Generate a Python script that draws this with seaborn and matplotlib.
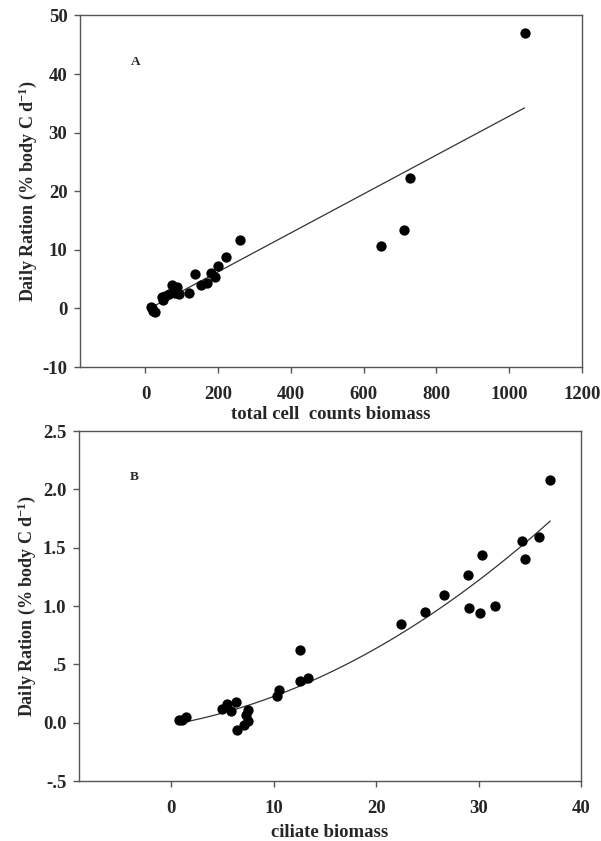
import numpy as np
import pandas as pd
import matplotlib
matplotlib.use("Agg")
import matplotlib.pyplot as plt
import seaborn as sns

# panel A: daily ration vs total cell counts biomass
cells_x = [15, 18, 22, 26, 45, 49, 54, 66, 72, 81, 86, 92, 121, 135, 152, 169,
           181, 192, 199, 221, 259, 648, 712, 727, 1042]
cells_y = [0.3, 0.0, -0.4, -0.6, 2.0, 1.4, 2.2, 2.4, 4.0, 2.6, 3.7, 2.4, 2.7, 5.8,
           4.0, 4.4, 6.0, 5.4, 7.3, 8.8, 11.7, 10.6, 13.4, 22.2, 47.0]

# panel B: daily ration vs ciliate biomass
cil_x = [0.8, 1.1, 1.4, 5.0, 5.4, 5.8, 6.3, 6.4, 7.1, 7.35, 7.47, 7.47, 10.35, 10.5,
         12.55, 12.55, 13.4, 22.4, 24.8, 26.6, 29.0, 29.1, 30.1, 30.3, 31.6, 34.2,
         34.5, 35.9, 37.0]
cil_y = [0.02, 0.02, 0.045, 0.114, 0.163, 0.10, 0.177, -0.06, -0.017, 0.069, 0.11,
         0.011, 0.226, 0.277, 0.627, 0.355, 0.38, 0.842, 0.945, 1.091, 1.263, 0.979,
         0.942, 1.437, 1.00, 1.558, 1.40, 1.589, 2.076]

a_xticks = [0, 200, 400, 600, 800, 1000, 1200]
a_yticks = [-10, 0, 10, 20, 30, 40, 50]
a_ylabels = ["-10", "0", "10", "20", "30", "40", "50"]
b_xticks = [0, 10, 20, 30, 40]
b_yticks = [-0.5, 0.0, 0.5, 1.0, 1.5, 2.0, 2.5]
b_ylabels = ["-.5", "0.0", ".5", "1.0", "1.5", "2.0", "2.5"]

df_a = pd.DataFrame({"x": cells_x, "y": cells_y})
df_b = pd.DataFrame({"x": cil_x, "y": cil_y})

sns.set_style("ticks")
plt.rcParams["font.family"] = ["Liberation Serif", "DejaVu Serif"]
plt.rcParams["font.weight"] = "bold"
plt.rcParams["mathtext.fontset"] = "custom"
plt.rcParams["mathtext.rm"] = "Liberation Serif:bold"
plt.rcParams["mathtext.it"] = "Liberation Serif:bold"
plt.rcParams["mathtext.bf"] = "Liberation Serif:bold"

fig = plt.figure(figsize=(6.01, 8.41), dpi=100)
ax1 = fig.add_axes([0.1331, 0.5636, 0.8353, 0.4180])
ax2 = fig.add_axes([0.1314, 0.0713, 0.8353, 0.4162])

ylab = r"Daily Ration (% body C d$^{-1}$)"
scat = {"s": 55, "color": "black", "linewidths": 0, "alpha": 1, "zorder": 3}
line = {"color": "#333333", "lw": 0.9, "zorder": 2}

# linear fit for A, second order fit for B
sns.regplot(data=df_a, x="x", y="y", ax=ax1, ci=None, scatter_kws=scat, line_kws=line)
sns.regplot(data=df_b, x="x", y="y", ax=ax2, ci=None, order=2, scatter_kws=scat, line_kws=line)

fs = 13.5
setup = [
    (ax1, (-180, 1200), (-10, 50), a_xticks, a_yticks, a_ylabels,
     "total cell  counts biomass", "A", -0.134),
    (ax2, (-9, 40), (-0.5, 2.5), b_xticks, b_yticks, b_ylabels,
     "ciliate biomass", "B", -0.148),
]
for ax, xl, yl, xt, yt, ytl, xlab, tag, xlab_y in setup:
    ax.set_xlim(*xl)
    ax.set_ylim(*yl)
    ax.set_xticks(xt)
    ax.set_xticklabels([str(v) for v in xt])
    ax.set_yticks(yt)
    ax.set_yticklabels(ytl)
    for sp in ax.spines.values():
        sp.set_visible(True)
        sp.set_color("#555555")
        sp.set_linewidth(1.0)
    ax.tick_params(axis="x", direction="out", length=4.5, width=1.0, color="#555555",
                   pad=9.5, labelsize=fs)
    ax.tick_params(axis="y", direction="out", length=4, width=1.0, color="#555555",
                   pad=5, labelsize=fs)
    for lab in ax.get_xticklabels() + ax.get_yticklabels():
        lab.set_fontweight("bold")
    ax.set_xlabel(xlab, fontsize=fs, fontweight="bold")
    ax.set_ylabel(ylab, fontsize=13, fontweight="bold")
    ax.xaxis.set_label_coords(0.5, xlab_y)
    ax.xaxis.label.set_verticalalignment("center")
    ax.yaxis.set_label_coords(-0.105, 0.5)
    ax.yaxis.label.set_verticalalignment("center")
    ax.text(0.11, 0.868, tag, transform=ax.transAxes, fontsize=9.5,
            fontweight="bold", ha="center", va="center")

fig.savefig("out.png", dpi=100)
